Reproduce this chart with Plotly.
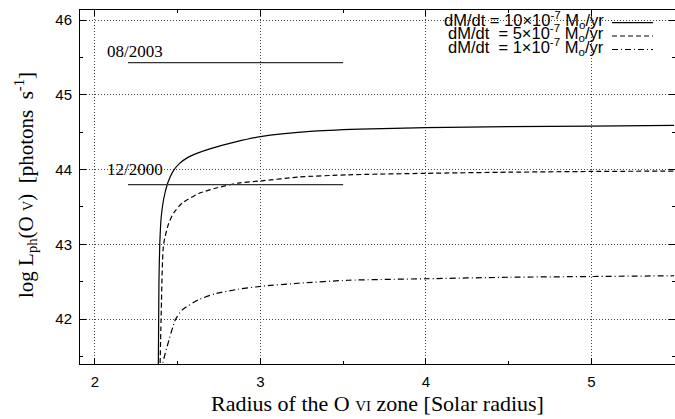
import plotly.graph_objects as go

# ---- data ----
x_10 = [2.383, 2.387, 2.392, 2.400, 2.415, 2.440, 2.470, 2.510, 2.560, 2.620, 2.700, 2.850, 3.000, 3.300, 3.600, 4.000, 4.500, 5.000, 5.500]
y_10 = [41.30, 42.50, 43.00, 43.35, 43.60, 43.82, 43.97, 44.08, 44.16, 44.22, 44.28, 44.37, 44.44, 44.51, 44.54, 44.56, 44.575, 44.58, 44.59]

x_5 = [2.393, 2.400, 2.415, 2.446, 2.476, 2.526, 2.627, 2.727, 2.867, 3.008, 3.230, 3.530, 4.000, 4.500, 5.000, 5.500]
y_5 = [41.30, 42.00, 43.00, 43.28, 43.42, 43.55, 43.68, 43.75, 43.82, 43.85, 43.90, 43.93, 43.95, 43.965, 43.975, 43.98]

x_1 = [2.405, 2.410, 2.436, 2.486, 2.526, 2.627, 2.727, 2.867, 3.008, 3.230, 3.530, 4.000, 4.500, 5.000, 5.500]
y_1 = [41.30, 41.41, 41.63, 41.99, 42.12, 42.26, 42.34, 42.40, 42.44, 42.48, 42.52, 42.54, 42.56, 42.57, 42.58]

obs_labels = ["08/2003", "12/2000"]
obs_values = [45.43, 43.80]
obs_x = [2.2, 3.5]
obs_label_x = 2.06
obs_label_y = [45.58, 44.00]

legend_labels = [
    "dM/dt = 10×10<sup>-7</sup> M<sub>o</sub>/yr",
    "dM/dt \u00a0= 5×10<sup>-7</sup> M<sub>o</sub>/yr",
    "dM/dt \u00a0= 1×10<sup>-7</sup> M<sub>o</sub>/yr",
]
legend_dash = ["solid", "5px,3px", "6px,3px,1px,3px"]

x_ticks = [2, 3, 4, 5]
y_ticks = [42, 43, 44, 45, 46]

x_title = "Radius of the O <span style='font-size:15px'>VI</span> zone [Solar radius]"
y_title = "log L<sub>ph</sub>(O <span style='font-size:14px'>V</span>)\u00a0 [photons\u00a0 s<sup>-1</sup>]"

fig = go.Figure()

series = [(x_10, y_10), (x_5, y_5), (x_1, y_1)]
for (xs, ys), dash in zip(series, legend_dash):
    fig.add_trace(go.Scatter(x=xs, y=ys, mode="lines",
                             line=dict(color="black", width=1.2, dash=dash, shape="spline", smoothing=0.6),
                             showlegend=False, hoverinfo="skip"))

for v in obs_values:
    fig.add_trace(go.Scatter(x=obs_x, y=[v, v], mode="lines",
                             line=dict(color="#333", width=1.2),
                             showlegend=False, hoverinfo="skip"))

annotations = []
for lab, ly in zip(obs_labels, obs_label_y):
    annotations.append(dict(x=obs_label_x, y=ly, xref="x", yref="y", text=lab,
                            showarrow=False, xanchor="left", yanchor="middle",
                            font=dict(family="Liberation Serif", size=17, color="black")))

W, H = 675, 419
ml, mr, mt, mb = 80, 0, 10, 55
pw, ph = W - ml - mr, H - mt - mb


def px_x(p):
    return (p - ml) / pw


def px_y(p):
    return 1 - (p - mt) / ph


# legend (text right-aligned, sample line on the right, like gnuplot)
leg_text_y_px = [20.0, 33.5, 47.0]
leg_line_y_px = [22.7, 36.0, 49.5]
text_right_px = 606
line_x0_px, line_x1_px = 612, 653
shapes = []
for lab, ty, ly, dash in zip(legend_labels, leg_text_y_px, leg_line_y_px, legend_dash):
    annotations.append(dict(x=px_x(text_right_px), y=px_y(ty), xref="paper", yref="paper",
                            text=lab, showarrow=False, xanchor="right", yanchor="middle",
                            font=dict(family="Liberation Sans", size=16.5, color="black")))
    shapes.append(dict(type="line", xref="paper", yref="paper",
                       x0=px_x(line_x0_px), x1=px_x(line_x1_px), y0=px_y(ly), y1=px_y(ly),
                       line=dict(color="black", width=1.2, dash=dash)))

# axis titles
annotations.append(dict(x=px_x(377), y=px_y(403), xref="paper", yref="paper", text=x_title,
                        showarrow=False, xanchor="center", yanchor="middle",
                        font=dict(family="Liberation Serif", size=22, color="black")))
annotations.append(dict(x=px_x(26), y=px_y(185), xref="paper", yref="paper", text=y_title,
                        showarrow=False, xanchor="center", yanchor="middle", textangle=-90,
                        font=dict(family="Liberation Serif", size=21, color="black")))

axis_common = dict(
    showline=True, linecolor="black", linewidth=1, mirror="ticks",
    ticks="inside", ticklen=6, tickcolor="black", tickwidth=1,
    showgrid=True, gridcolor="#444", griddash="1px,2px", gridwidth=1,
    zeroline=False, automargin=False,
    tickfont=dict(family="Liberation Sans", size=15, color="black"),
    minor=dict(ticks="inside", ticklen=3, tickcolor="black", dtick=0.5, showgrid=False),
)

fig.update_xaxes(range=[1.91, 1.91 + pw / 165.5], tickvals=x_ticks, ticklabelstandoff=4, **axis_common)
fig.update_yaxes(range=[41.40, 46.134], tickvals=y_ticks, ticklabelstandoff=4, **axis_common)

fig.update_layout(width=W, height=H, margin=dict(l=ml, r=mr, t=mt, b=mb, autoexpand=False),
                  plot_bgcolor="white", paper_bgcolor="white",
                  annotations=annotations, shapes=shapes)

fig.write_html("out.html", config={"displayModeBar": False},
               post_script="document.body.style.margin='0';document.body.style.overflow='hidden';")
